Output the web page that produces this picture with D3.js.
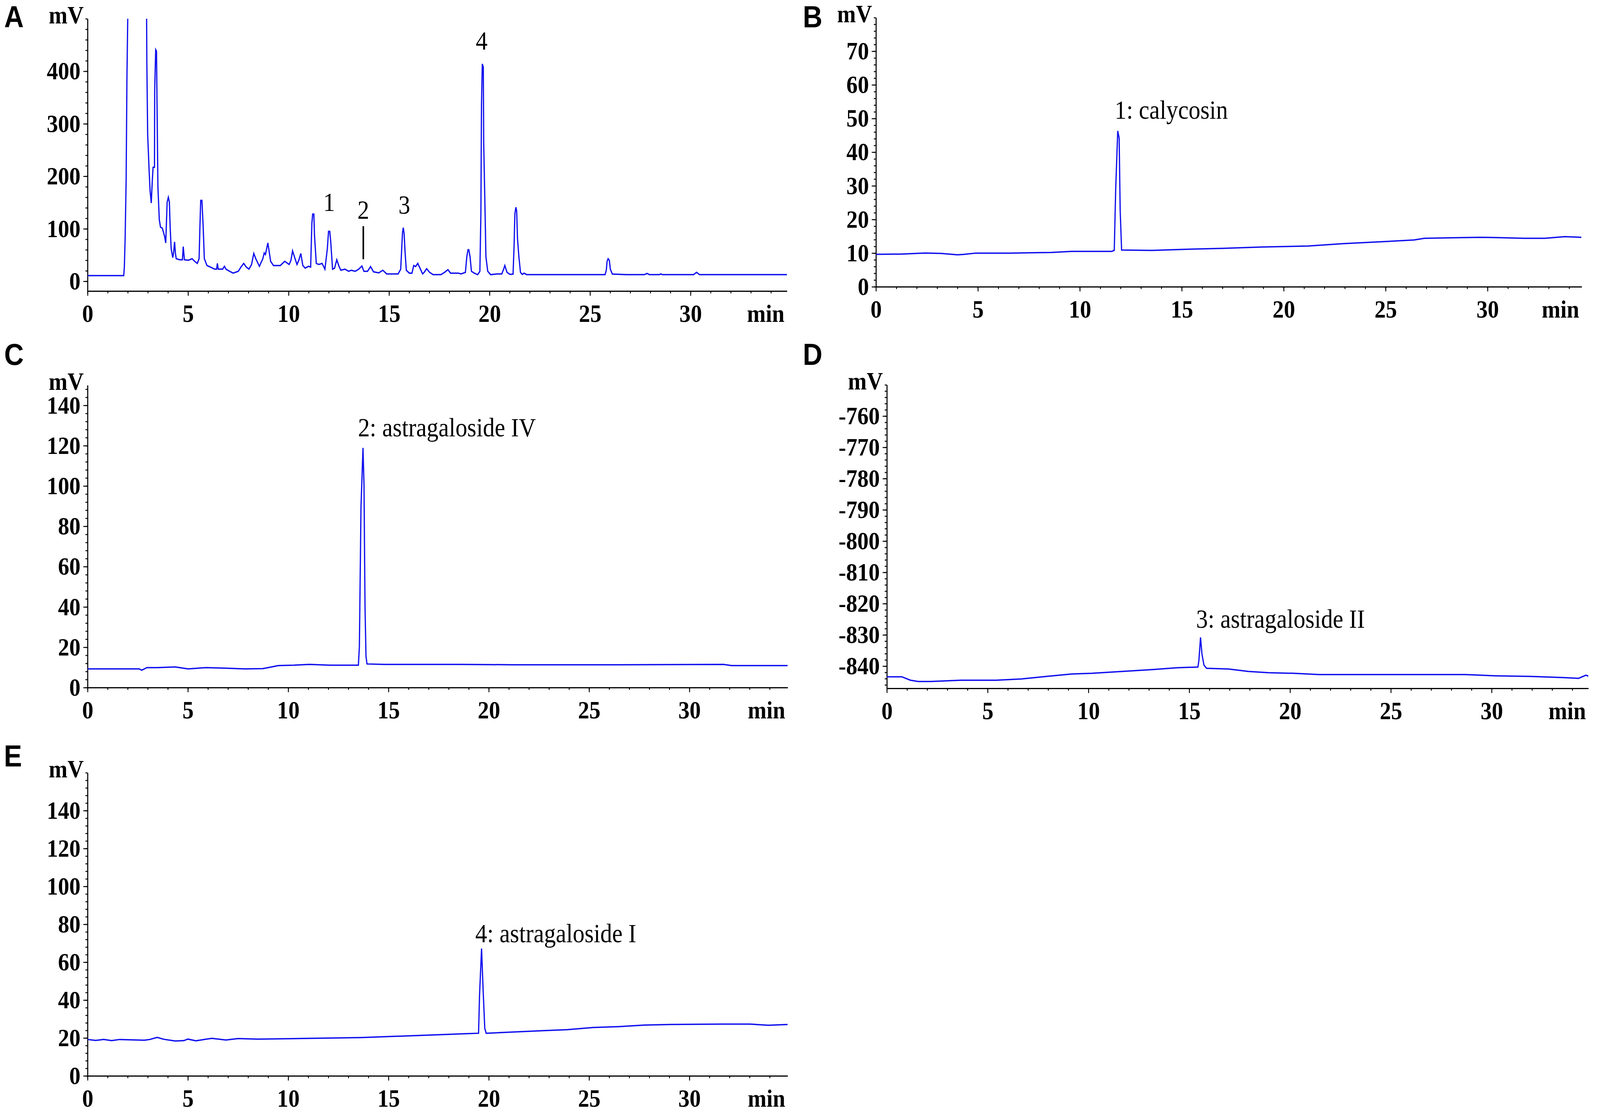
<!DOCTYPE html>
<html>
<head>
<meta charset="utf-8">
<script src="https://cdnjs.cloudflare.com/ajax/libs/d3/7.8.5/d3.min.js"></script>
<style>
  html, body { margin: 0; padding: 0; background: #fff; overflow: hidden; }
  #chart { display: block; width: 100vw; height: 100vh; }
</style>
</head>
<body>
<svg id="chart"></svg>
<script>
// Drawing size (the svg is stretched over the whole window)
var width = 4550;
var height = 2867;

// Retention time ticks (min), same on every panel
var timeTicks = [0, 5, 10, 15, 20, 25, 30];

// A: sample chromatogram, [min, mV]
var traceA = [
  [0, 10.7], [1.80, 10.7], [1.83, 27], [1.87, 82], [1.92, 195], [1.96, 391], [2.02, 560],
  [2.93, 560], [2.95, 415], [2.99, 280], [3.06, 214], [3.11, 173], [3.17, 149], [3.22, 191],
  [3.26, 217], [3.33, 217], [3.34, 364], [3.39, 441], [3.43, 438], [3.46, 325], [3.50, 180],
  [3.57, 117], [3.63, 103], [3.72, 101], [3.83, 86], [3.89, 73], [3.96, 151], [4.02, 160],
  [4.07, 151], [4.11, 103], [4.16, 62], [4.24, 45], [4.28, 54], [4.33, 75], [4.37, 54],
  [4.41, 43], [4.59, 41], [4.72, 41], [4.76, 66], [4.82, 41], [5.02, 40], [5.20, 43],
  [5.33, 38], [5.46, 34], [5.55, 43], [5.59, 103], [5.63, 154], [5.69, 154], [5.75, 106],
  [5.81, 43], [5.94, 30], [6.11, 27], [6.33, 23], [6.42, 23], [6.46, 34], [6.50, 23],
  [6.72, 23], [6.81, 28.5], [6.89, 23], [7.07, 19], [7.24, 15.5], [7.50, 19], [7.63, 27],
  [7.77, 34], [7.90, 27], [8.03, 23], [8.16, 32], [8.27, 53], [8.37, 43], [8.55, 28.5],
  [8.72, 43], [8.79, 54], [8.85, 51], [8.97, 73], [9.03, 58], [9.11, 38], [9.25, 30],
  [9.59, 30], [9.81, 38], [10.03, 32], [10.12, 40], [10.20, 58], [10.29, 47], [10.42, 32],
  [10.51, 40], [10.61, 53], [10.71, 30], [10.83, 25], [10.99, 28.5], [11.10, 27], [11.16, 110],
  [11.20, 128], [11.26, 128], [11.29, 88], [11.38, 34], [11.51, 32], [11.67, 34], [11.81, 23],
  [11.93, 62], [11.99, 95], [12.05, 95], [12.10, 75], [12.19, 23], [12.29, 25], [12.40, 41],
  [12.51, 28.5], [12.60, 21], [12.81, 23], [12.99, 19], [13.12, 21], [13.32, 19], [13.49, 23],
  [13.65, 29], [13.75, 19], [13.93, 19], [14.08, 28], [14.23, 18], [14.49, 16], [14.69, 21],
  [14.88, 14], [15.45, 14], [15.58, 23], [15.62, 54], [15.67, 93], [15.71, 102], [15.75, 91],
  [15.80, 54], [15.86, 21], [16.01, 15.5], [16.14, 15.5], [16.23, 30], [16.32, 28], [16.43, 34],
  [16.54, 25], [16.67, 14], [16.75, 17], [16.87, 24], [17.02, 17], [17.19, 12.6], [17.58, 12.6],
  [17.76, 17], [17.93, 22], [18.06, 15.5], [18.45, 15.5], [18.58, 14], [18.80, 17], [18.87, 47],
  [18.93, 60], [18.97, 60], [19.03, 47], [19.10, 19], [19.24, 15.5], [19.41, 12.6], [19.52, 19],
  [19.57, 128], [19.60, 336], [19.64, 414], [19.69, 408], [19.71, 264], [19.78, 128], [19.82, 47],
  [19.91, 19], [20.06, 12.6], [20.37, 14], [20.61, 14], [20.70, 23], [20.76, 30], [20.87, 17],
  [21.02, 13], [21.17, 13.7], [21.22, 65], [21.26, 128], [21.31, 141], [21.35, 134], [21.39, 82],
  [21.46, 47], [21.54, 17], [21.63, 13], [21.72, 15.5], [21.80, 13.7], [21.85, 12.6],
  [25.75, 12.6], [25.81, 21], [25.85, 38], [25.90, 43], [25.96, 40], [26.01, 23], [26.11, 13.7],
  [26.8, 12.6], [27.7, 12.6], [27.84, 15], [27.95, 12.6], [28.45, 12.6], [28.52, 14], [28.6, 12.6],
  [30.15, 12.6], [30.3, 17], [30.45, 12.6], [34.8, 12.6]
];
var ticksA = [0, 100, 200, 300, 400];
var peakNumbersA = [
  { text: "1", t: 12.02, v: 134 },
  { text: "2", t: 13.72, v: 119 },
  { text: "3", t: 15.76, v: 129 },
  { text: "4", t: 19.61, v: 441 }
];
// marker line under "2" (min, mV from - mV to)
var markerA = { t: 13.72, from: 105, to: 42 };

// B: calycosin standard
var traceB = [
  [0, 9.65], [1.2, 9.7], [2.4, 10.0], [3.2, 9.9], [4.0, 9.5], [4.3, 9.6], [4.9, 10.0],
  [6.6, 10.0], [7.6, 10.1], [8.6, 10.2], [9.6, 10.5], [11.56, 10.5], [11.69, 10.8],
  [11.76, 29], [11.86, 46.3], [11.93, 44.2], [11.98, 22.7], [12.05, 10.9], [13.54, 10.8],
  [15.0, 11.1], [17.0, 11.4], [18.97, 11.8], [21.2, 12.1], [22.9, 12.8], [24.9, 13.4],
  [26.4, 13.9], [26.9, 14.4], [27.9, 14.5], [29.6, 14.7], [30.5, 14.6], [31.8, 14.4],
  [32.8, 14.4], [33.8, 14.9], [34.6, 14.7]
];
var ticksB = [0, 10, 20, 30, 40, 50, 60, 70];

// C: astragaloside IV standard
var traceC = [
  [0, 9.25], [2.57, 9.25], [2.70, 8.6], [2.96, 9.9], [3.47, 9.9], [4.37, 10.2], [5.01, 9.25],
  [5.92, 9.9], [6.94, 9.6], [7.84, 9.25], [8.74, 9.4], [9.0, 9.9], [9.51, 10.9], [10.28, 11.1],
  [11.06, 11.5], [12.08, 11.1], [13.37, 11.1], [13.50, 11.1], [13.55, 20.4], [13.63, 89.6],
  [13.73, 118.9], [13.78, 100.7], [13.83, 40.2], [13.88, 15.4], [13.93, 11.7], [14.79, 11.5],
  [18.6, 11.5], [21.2, 11.3], [26.3, 11.3], [31.7, 11.5], [32.1, 10.9], [34.9, 10.9]
];
var ticksC = [0, 20, 40, 60, 80, 100, 120, 140];

// D: astragaloside II standard (negative offset)
var traceD = [
  [0, -843.4], [0.74, -843.4], [1.17, -844.5], [1.55, -844.9], [2.17, -844.9], [3.67, -844.5],
  [5.42, -844.5], [6.67, -844.1], [7.92, -843.3], [9.18, -842.5], [10.17, -842.3],
  [11.67, -841.7], [13.17, -841.1], [14.42, -840.5], [15.43, -840.3], [15.48, -838.1],
  [15.56, -830.8], [15.63, -836.1], [15.73, -839.7], [15.86, -840.7], [16.94, -840.9],
  [17.93, -841.7], [18.93, -842.1], [20.17, -842.3], [21.43, -842.7], [23.67, -842.7],
  [26.18, -842.7], [28.68, -842.7], [30.18, -843.1], [31.94, -843.3], [33.69, -843.7],
  [34.31, -843.9], [34.68, -842.9], [34.8, -843.2]
];
var ticksD = [-840, -830, -820, -810, -800, -790, -780, -770, -760];

// E: astragaloside I standard
var traceE = [
  [0, 19.2], [0.4, 18.7], [0.8, 19.2], [1.2, 18.6], [1.6, 19.2], [2.83, 18.8], [3.1, 19.2],
  [3.47, 20.3], [3.8, 19.3], [4.37, 18.4], [4.8, 18.6], [5.0, 19.4], [5.4, 18.5], [5.92, 19.4],
  [6.2, 19.8], [6.9, 18.9], [7.5, 19.7], [8.49, 19.4], [11.06, 19.8], [13.63, 20.2],
  [16.2, 21.2], [18.77, 22.2], [19.49, 22.5], [19.54, 42.8], [19.64, 67.2], [19.72, 44.8],
  [19.80, 25.1], [19.87, 22.5], [20.31, 22.7], [22.62, 23.8], [23.91, 24.4], [25.19, 25.5],
  [26.48, 26.0], [27.76, 26.8], [29.05, 27.1], [31.62, 27.3], [33.03, 27.3], [33.93, 26.7],
  [34.9, 27.1]
];
var ticksE = [0, 20, 40, 60, 80, 100, 120, 140];

// Compound labels: text, anchored at (min, mV) of the text start / baseline
var labelB = { text: "1: calycosin", t: 11.71, v: 49.9 };
var labelC = { text: "2: astragaloside IV", t: 13.48, v: 124.6 };
var labelD = { text: "3: astragaloside II", t: 15.34, v: -827.75 };
var labelE = { text: "4: astragaloside I", t: 19.33, v: 70.5 };

// Panel layout (pixel boxes of the plot areas)
var panels = [
  { letter: "A", trace: traceA, ticks: ticksA, minor: 20, xd: [0, 34.8], yd: [-18.6, 500],
    xr: [249, 2238], yr: [745, 48], letterAt: [12, 70], peaks: peakNumbersA, marker: markerA },
  { letter: "B", trace: traceB, ticks: ticksB, minor: 2, xd: [0, 34.62], yd: [0, 80],
    xr: [2491, 4498], yr: [734, 45], letterAt: [2283, 70], label: labelB },
  { letter: "C", trace: traceC, ticks: ticksC, minor: 4, xd: [0, 34.9], yd: [0, 150],
    xr: [249, 2240], yr: [1760, 986], letterAt: [12, 934], label: labelC },
  { letter: "D", trace: traceD, ticks: ticksD, minor: 2, xd: [0, 34.8], yd: [-847.1, -750],
    xr: [2522, 4517], yr: [1762, 985], letterAt: [2283, 934], label: labelD },
  { letter: "E", trace: traceE, ticks: ticksE, minor: 4, xd: [0, 34.9], yd: [0, 160],
    xr: [249, 2240], yr: [2754, 1978], letterAt: [11, 1962], label: labelE }
];

var serif = "'Liberation Serif', 'Times New Roman', Times, serif";
var sans = "'Liberation Sans', Arial, Helvetica, sans-serif";
var lineColor = "#1010ee";

var svg = d3.select("#chart")
    .attr("viewBox", "0 0 " + width + " " + height)
    .attr("preserveAspectRatio", "none");

svg.append("rect").attr("width", width).attr("height", height).attr("fill", "#fff");

function styleAxis(g) {
  g.attr("font-family", serif)
    .attr("font-size", 64)
    .attr("font-weight", "bold");
  g.selectAll("path.domain").attr("stroke", "#000").attr("stroke-width", 3);
  g.selectAll(".tick line").attr("stroke", "#000").attr("stroke-width", 2.5);
  g.selectAll(".tick text").attr("fill", "#000");
}

function stepRange(lo, hi, step) {
  var k0 = Math.ceil(lo / step - 1e-9), k1 = Math.floor(hi / step + 1e-9);
  return d3.range(k0, k1 + 1).map(function(k) { return k * step; });
}

panels.forEach(function(p) {
  var x = d3.scaleLinear().domain(p.xd).range(p.xr);
  var y = d3.scaleLinear().domain(p.yd).range(p.yr);
  var g = svg.append("g");
  var bottom = p.yr[0], top = p.yr[1];

  // panel letter
  g.append("text")
    .attr("x", p.letterAt[0]).attr("y", p.letterAt[1])
    .attr("font-family", sans).attr("font-weight", "bold").attr("font-size", 77)
    .text(p.letter);

  // minor ticks
  g.append("g")
    .attr("transform", "translate(0," + bottom + ")")
    .call(d3.axisBottom(x).tickValues(stepRange(p.xd[0], p.xd[1], 1)).tickSize(6).tickFormat(""))
    .call(styleAxis)
    .select("path.domain").remove();
  g.append("g")
    .attr("transform", "translate(" + p.xr[0] + ",0)")
    .call(d3.axisLeft(y).tickValues(stepRange(p.yd[0], p.yd[1], p.minor)).tickSize(6).tickFormat(""))
    .call(styleAxis)
    .select("path.domain").remove();

  // major axes
  g.append("g")
    .attr("transform", "translate(0," + bottom + ")")
    .call(d3.axisBottom(x).tickValues(timeTicks).tickSize(12).tickSizeOuter(0).tickPadding(22)
      .tickFormat(function(d) { return String(d); }))
    .call(styleAxis);
  g.append("g")
    .attr("transform", "translate(" + p.xr[0] + ",0)")
    .call(d3.axisLeft(y).tickValues(p.ticks).tickSize(12).tickSizeOuter(0).tickPadding(8)
      .tickFormat(function(d) { return String(d); }))
    .call(styleAxis);

  // unit labels
  g.append("text")
    .attr("x", p.xr[0] - 11).attr("y", top + 12)
    .attr("text-anchor", "end")
    .attr("font-family", serif).attr("font-weight", "bold").attr("font-size", 64)
    .text("mV");
  g.append("text")
    .attr("x", p.xr[1] - 7).attr("y", bottom + 79)
    .attr("text-anchor", "end")
    .attr("font-family", serif).attr("font-weight", "bold").attr("font-size", 64)
    .text("min");

  // trace
  var clipId = "clip" + p.letter;
  svg.append("clipPath").attr("id", clipId)
    .append("rect")
    .attr("x", p.xr[0]).attr("y", top)
    .attr("width", p.xr[1] - p.xr[0]).attr("height", bottom - top);

  var line = d3.line()
    .x(function(d) { return x(d[0]); })
    .y(function(d) { return y(d[1]); });

  g.append("path")
    .attr("clip-path", "url(#" + clipId + ")")
    .attr("fill", "none")
    .attr("stroke", lineColor)
    .attr("stroke-width", 3.5)
    .attr("d", line(p.trace));

  // peak numbers (panel A)
  if (p.peaks) {
    g.selectAll("text.peak")
      .data(p.peaks)
      .enter().append("text")
      .attr("class", "peak")
      .attr("x", function(d) { return x(d.t); })
      .attr("y", function(d) { return y(d.v); })
      .attr("text-anchor", "middle")
      .attr("font-family", serif).attr("font-size", 67)
      .text(function(d) { return d.text; });
  }
  if (p.marker) {
    g.append("line")
      .attr("x1", x(p.marker.t)).attr("x2", x(p.marker.t))
      .attr("y1", y(p.marker.from)).attr("y2", y(p.marker.to))
      .attr("stroke", "#000").attr("stroke-width", 4.5);
  }
  // compound label
  if (p.label) {
    g.append("text")
      .attr("x", x(p.label.t)).attr("y", y(p.label.v))
      .attr("font-family", serif).attr("font-size", 67)
      .text(p.label.text);
  }
});
</script>
</body>
</html>
